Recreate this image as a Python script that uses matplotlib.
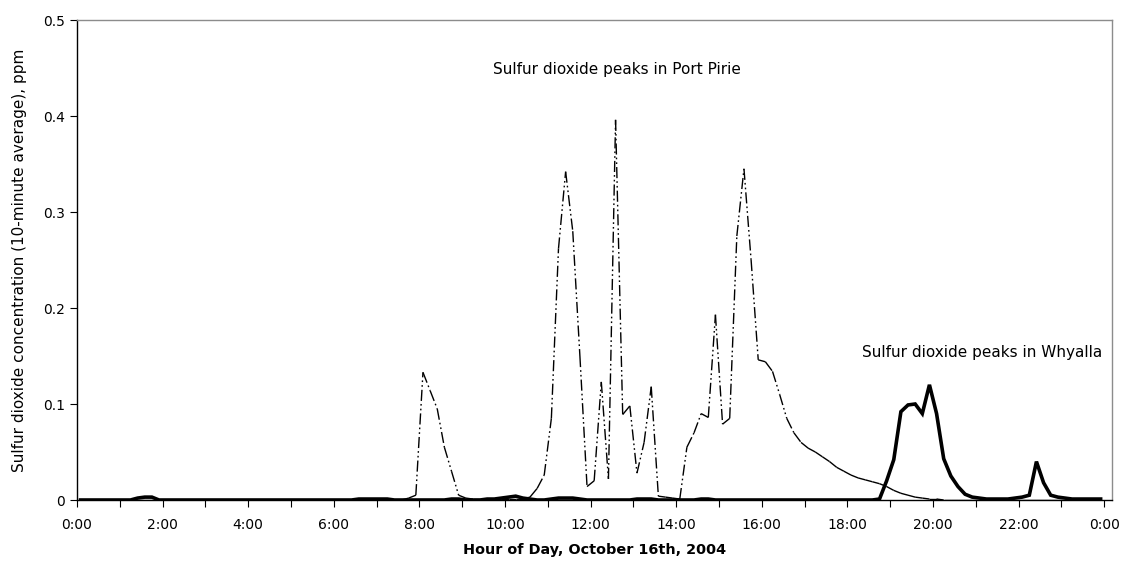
import numpy as np
import matplotlib
matplotlib.use("Agg")
import matplotlib.pyplot as plt
from matplotlib.collections import LineCollection

# 10-minute averages, one value per slot (0:00-0:10, 0:10-0:20, ...)
slot_minutes = np.arange(5, 1440, 10)

port_pirie = [
    0, 0, 0, 0, 0, 0, 0, 0, 0, 0, 0, 0,  # 0:00-2:00
    0, 0, 0, 0, 0, 0, 0, 0, 0, 0, 0, 0,  # 2:00-4:00
    0, 0, 0, 0, 0, 0, 0, 0, 0, 0, 0, 0,  # 4:00-6:00
    0, 0, 0, 0, 0, 0, 0, 0, 0, 0, 0.002, 0.005,  # 6:00-8:00
    0.133, 0.114, 0.095, 0.055, 0.03, 0.005, 0.002, 0.001, 0.001, 0.001, 0.001, 0.001,  # 8:00-10:00
    0.001, 0.001, 0.001, 0.003, 0.012, 0.026, 0.085, 0.262, 0.342, 0.28, 0.15, 0.014,  # 10:00-12:00
    0.02, 0.123, 0.022, 0.396, 0.089, 0.098, 0.028, 0.06, 0.118, 0.004, 0.003, 0.002,  # 12:00-14:00
    0.001, 0.055, 0.07, 0.09, 0.086, 0.193, 0.079, 0.085, 0.275, 0.345, 0.25, 0.146,  # 14:00-16:00
    0.144, 0.134, 0.11, 0.085, 0.07, 0.06, 0.054, 0.05, 0.045, 0.04, 0.034, 0.03,  # 16:00-18:00
    0.026, 0.023, 0.021, 0.019, 0.017, 0.014, 0.01, 0.007, 0.005, 0.003, 0.002, 0.001,  # 18:00-20:00
    0.001, 0, 0, 0, 0, 0, 0, 0, 0, 0, 0, 0,  # 20:00-22:00
    0, 0, 0, 0, 0, 0, 0, 0, 0, 0, 0, 0,  # 22:00-24:00
]

whyalla = [
    0, 0, 0, 0, 0, 0, 0, 0, 0.002, 0.003, 0.003, 0,  # 0:00-2:00
    0, 0, 0, 0, 0, 0, 0, 0, 0, 0, 0, 0,  # 2:00-4:00
    0, 0, 0, 0, 0, 0, 0, 0, 0, 0, 0, 0,  # 4:00-6:00
    0, 0, 0, 0.001, 0.001, 0.001, 0.001, 0.001, 0, 0, 0, 0,  # 6:00-8:00
    0, 0, 0, 0, 0.001, 0.001, 0, 0, 0, 0.001, 0.001, 0.002,  # 8:00-10:00
    0.003, 0.004, 0.002, 0.001, 0, 0, 0.001, 0.002, 0.002, 0.002, 0.001, 0,  # 10:00-12:00
    0, 0, 0, 0, 0, 0, 0.001, 0.001, 0.001, 0, 0, 0,  # 12:00-14:00
    0, 0, 0, 0.001, 0.001, 0, 0, 0, 0, 0, 0, 0,  # 14:00-16:00
    0, 0, 0, 0, 0, 0, 0, 0, 0, 0, 0, 0,  # 16:00-18:00
    0, 0, 0, 0, 0.001, 0.02, 0.042, 0.092, 0.099, 0.1, 0.09, 0.12,  # 18:00-20:00
    0.09, 0.043, 0.025, 0.014, 0.006, 0.003, 0.002, 0.001, 0.001, 0.001, 0.001, 0.002,  # 20:00-22:00
    0.003, 0.005, 0.04, 0.018, 0.005, 0.003, 0.002, 0.001, 0.001, 0.001, 0.001, 0.001,  # 22:00-24:00
]

hour_ticks = list(range(0, 25, 2))
hour_labels = [f"{h % 24}:00" for h in hour_ticks]
y_ticks = [0, 0.1, 0.2, 0.3, 0.4, 0.5]
y_labels = ["0", "0.1", "0.2", "0.3", "0.4", "0.5"]

plt.rcParams["font.family"] = ["DejaVu Sans"]
plt.rcParams["font.size"] = 10

fig = plt.figure(figsize=(11.26, 5.69), dpi=100)
ax = fig.add_axes([77 / 1126, 69 / 569, 1035 / 1126, 480 / 569])

hours = slot_minutes / 60.0

# Port Pirie: the dash pattern restarts on every segment, as in the original
pp = np.array(port_pirie)
pts = np.column_stack([hours, pp])
segs = np.stack([pts[:-1], pts[1:]], axis=1)
lc = LineCollection(segs, colors="black", linewidths=1.0,
                    linestyles=[(0, (8, 2.2, 1.2, 2.2, 1.2, 2.2))], capstyle="butt")
ax.add_collection(lc)

ax.plot(hours, whyalla, color="black", lw=2.6, solid_joinstyle="miter", zorder=3)

ax.set_xlim(0, 1035 / 42.8)
ax.set_ylim(0, 0.5)
ax.set_xticks(hour_ticks)
ax.set_xticklabels(hour_labels)
ax.set_xticks(range(1, 24, 2), minor=True)
ax.set_yticks(y_ticks)
ax.set_yticklabels(y_labels)
ax.tick_params(axis="both", which="both", direction="out", length=5, width=0.8,
               color="black", labelsize=10)
ax.tick_params(axis="x", pad=8)

for side in ["top", "right"]:
    ax.spines[side].set_color("#8c8c8c")
    ax.spines[side].set_linewidth(1.0)
for side in ["left", "bottom"]:
    ax.spines[side].set_color("black")
    ax.spines[side].set_linewidth(1.0)

ax.set_xlabel("Hour of Day, October 16th, 2004", fontweight="bold", fontsize=10.4, labelpad=8)
ax.set_ylabel("Sulfur dioxide concentration (10-minute average), ppm", fontsize=11, labelpad=12)

ax.text(12.62, 0.448, "Sulfur dioxide peaks in Port Pirie", ha="center", va="center", fontsize=11)
ax.text(21.15, 0.154, "Sulfur dioxide peaks in Whyalla", ha="center", va="center", fontsize=11)

fig.savefig("out.png", dpi=100)
